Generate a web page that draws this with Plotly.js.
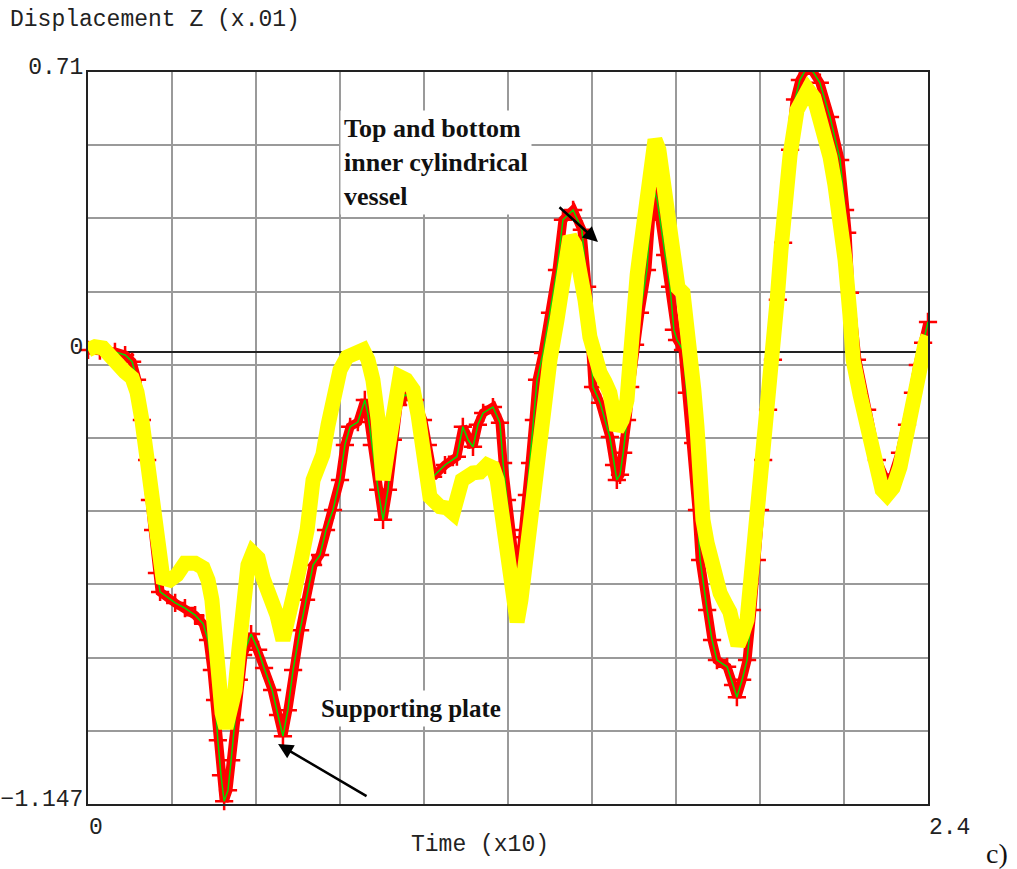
<!DOCTYPE html>
<html>
<head>
<meta charset="utf-8">
<script src="https://cdn.plot.ly/plotly-3.0.1.min.js"></script>
<style>
  html, body { margin: 0; padding: 0; background: #fff; }
  #chart { width: 1017px; height: 869px; }
</style>
</head>
<body>
<div id="chart"></div>
<script>
// Time axis in units of x10 s, displacement in units of x.01
const supportTime = [
  0, 0.034, 0.077, 0.106, 0.126, 0.140, 0.154, 0.169, 0.177, 0.186, 0.197, 0.206,
  0.249, 0.277, 0.306, 0.329, 0.343, 0.354, 0.363, 0.371, 0.380, 0.389, 0.400, 0.409,
  0.420, 0.431, 0.443, 0.466, 0.486, 0.503, 0.526, 0.543, 0.557, 0.571, 0.586, 0.606,
  0.623, 0.643, 0.663, 0.680, 0.700, 0.720, 0.734, 0.749, 0.771, 0.791, 0.800, 0.811,
  0.829, 0.843, 0.857, 0.871, 0.886, 0.906, 0.934, 0.957, 0.971, 0.986, 1.020, 1.054,
  1.071, 1.086, 1.100, 1.114, 1.129, 1.157, 1.177, 1.186, 1.197, 1.206, 1.217, 1.226,
  1.234, 1.243, 1.254, 1.263, 1.274, 1.283, 1.300, 1.320, 1.340, 1.357, 1.386, 1.411,
  1.426, 1.443, 1.463, 1.491, 1.503, 1.511, 1.520, 1.529, 1.540, 1.549, 1.563, 1.577,
  1.597, 1.606, 1.614, 1.626, 1.634, 1.649, 1.663, 1.674, 1.683, 1.700, 1.711, 1.729,
  1.740, 1.749, 1.769, 1.783, 1.797, 1.826, 1.843, 1.854, 1.869, 1.883, 1.897, 1.911,
  1.920, 1.929, 1.943, 1.957, 1.971, 1.986, 2.006, 2.020, 2.034, 2.054, 2.071, 2.091,
  2.120, 2.149, 2.163, 2.169, 2.177, 2.197, 2.226, 2.254, 2.283, 2.300, 2.320, 2.340,
  2.357, 2.371, 2.386, 2.400
];
const supportDisp = [
  0.005, 0.003, 0.000, -0.008, -0.025, -0.071, -0.173, -0.274, -0.376, -0.452, -0.561, -0.609,
  -0.637, -0.650, -0.668, -0.690, -0.731, -0.807, -0.883, -0.985, -1.074, -1.140, -1.112, -1.036,
  -0.934, -0.832, -0.769, -0.716, -0.756, -0.802, -0.858, -0.921, -0.975, -0.909, -0.807, -0.706,
  -0.629, -0.541, -0.515, -0.452, -0.401, -0.325, -0.236, -0.190, -0.178, -0.122, -0.160, -0.236,
  -0.350, -0.426, -0.350, -0.223, -0.135, -0.109, -0.122, -0.173, -0.236, -0.317, -0.287, -0.266,
  -0.190, -0.223, -0.241, -0.185, -0.155, -0.140, -0.180, -0.282, -0.376, -0.452, -0.541, -0.586,
  -0.541, -0.470, -0.363, -0.282, -0.173, -0.071, -0.003, 0.099, 0.208, 0.335, 0.360, 0.310,
  0.165, -0.089, -0.129, -0.216, -0.287, -0.325, -0.312, -0.256, -0.173, -0.089, 0.018, 0.099,
  0.208, 0.335, 0.419, 0.386, 0.335, 0.246, 0.165, 0.056, 0.030, 0.005, -0.104, -0.231,
  -0.401, -0.528, -0.655, -0.731, -0.782, -0.799, -0.845, -0.876, -0.832, -0.782, -0.655, -0.528,
  -0.401, -0.274, -0.147, -0.020, 0.132, 0.277, 0.513, 0.640, 0.690, 0.721, 0.711, 0.683,
  0.596, 0.487, 0.360, 0.302, 0.150, -0.020, -0.147, -0.274, -0.332, -0.312, -0.256, -0.185,
  -0.104, -0.033, 0.023, 0.076
];

const vesselTime = [
  0, 0.020, 0.043, 0.063, 0.086, 0.106, 0.126, 0.140, 0.154, 0.169, 0.180, 0.191,
  0.203, 0.214, 0.234, 0.254, 0.277, 0.306, 0.329, 0.343, 0.354, 0.363, 0.374, 0.383,
  0.394, 0.406, 0.420, 0.431, 0.443, 0.457, 0.471, 0.486, 0.500, 0.520, 0.540, 0.557,
  0.571, 0.586, 0.606, 0.626, 0.643, 0.657, 0.671, 0.686, 0.700, 0.720, 0.740, 0.763,
  0.786, 0.800, 0.814, 0.829, 0.843, 0.854, 0.863, 0.877, 0.891, 0.909, 0.929, 0.943,
  0.957, 0.977, 1.006, 1.026, 1.043, 1.057, 1.069, 1.100, 1.120, 1.140, 1.157, 1.169,
  1.186, 1.197, 1.206, 1.217, 1.226, 1.237, 1.254, 1.271, 1.286, 1.300, 1.320, 1.340,
  1.357, 1.369, 1.377, 1.391, 1.406, 1.420, 1.434, 1.449, 1.463, 1.477, 1.491, 1.503,
  1.511, 1.526, 1.540, 1.549, 1.557, 1.569, 1.577, 1.591, 1.606, 1.620, 1.631, 1.643,
  1.657, 1.671, 1.686, 1.700, 1.711, 1.720, 1.731, 1.740, 1.749, 1.757, 1.769, 1.786,
  1.806, 1.823, 1.834, 1.846, 1.857, 1.869, 1.883, 1.891, 1.900, 1.911, 1.920, 1.931,
  1.940, 1.957, 1.969, 1.980, 1.994, 2.006, 2.026, 2.043, 2.057, 2.074, 2.091, 2.106,
  2.120, 2.134, 2.149, 2.163, 2.177, 2.186, 2.206, 2.226, 2.240, 2.254, 2.269, 2.283,
  2.300, 2.320, 2.334, 2.349, 2.363, 2.377, 2.391, 2.400
];
const vesselDisp = [
  0.005, 0.013, 0.010, -0.013, -0.038, -0.051, -0.066, -0.102, -0.173, -0.274, -0.363, -0.452,
  -0.541, -0.574, -0.579, -0.566, -0.536, -0.536, -0.548, -0.579, -0.629, -0.744, -0.858, -0.916,
  -0.954, -0.921, -0.858, -0.756, -0.629, -0.541, -0.510, -0.523, -0.574, -0.617, -0.668, -0.731,
  -0.693, -0.622, -0.541, -0.452, -0.325, -0.294, -0.261, -0.185, -0.114, -0.046, -0.013, 0.000,
  0.005, -0.020, -0.071, -0.173, -0.325, -0.261, -0.198, -0.109, -0.063, -0.071, -0.096, -0.160,
  -0.241, -0.368, -0.393, -0.396, -0.409, -0.363, -0.325, -0.307, -0.305, -0.287, -0.294, -0.325,
  -0.426, -0.503, -0.579, -0.642, -0.685, -0.629, -0.495, -0.325, -0.223, -0.155, -0.020, 0.081,
  0.165, 0.246, 0.292, 0.272, 0.208, 0.132, 0.038, -0.025, -0.053, -0.076, -0.104, -0.160,
  -0.198, -0.173, -0.122, -0.020, 0.124, 0.195, 0.251, 0.360, 0.462, 0.538, 0.513, 0.419,
  0.310, 0.208, 0.162, 0.150, 0.081, -0.003, -0.096, -0.190, -0.358, -0.426, -0.485, -0.553,
  -0.612, -0.642, -0.660, -0.706, -0.744, -0.718, -0.680, -0.604, -0.528, -0.414, -0.317, -0.223,
  -0.147, 0.023, 0.132, 0.259, 0.411, 0.500, 0.614, 0.652, 0.665, 0.645, 0.596, 0.551,
  0.495, 0.424, 0.343, 0.234, 0.094, -0.020, -0.109, -0.190, -0.261, -0.317, -0.350, -0.363,
  -0.345, -0.292, -0.223, -0.147, -0.084, -0.020, 0.018, 0.040
];

// Axis extents and the labels printed at the ends of each axis
const timeRange = [0, 2.4];
const dispRange = [-1.147, 0.71];
const timeTickLabels = ['0', '2.4'];
const dispTickLabels = ['\u22121.147', '0', '0.71'];

// ten equal divisions on each axis carry the grid lines
const divisions = 10;
const xGrid = [], yGrid = [], xGridText = [], yGridText = [];
for (let k = 0; k <= divisions; k++) {
  xGrid.push(timeRange[0] + (timeRange[1] - timeRange[0]) * k / divisions);
  xGridText.push(k === 0 ? timeTickLabels[0] : (k === divisions ? timeTickLabels[1] : ''));
  yGrid.push(dispRange[0] + (dispRange[1] - dispRange[0]) * k / divisions);
  yGridText.push(k === 0 ? dispTickLabels[0] : (k === divisions ? dispTickLabels[2] : ''));
}
yGrid.push(0);
yGridText.push(dispTickLabels[1]);

const monoFont = { family: 'Liberation Mono, DejaVu Sans Mono, monospace', size: 23, color: '#222' };
const serifBold = { family: 'Liberation Serif, Times New Roman, serif', size: 26, color: '#111' };

const traces = [
  {
    x: supportTime, y: supportDisp, type: 'scatter', mode: 'lines+markers',
    line: { color: '#ff0000', width: 9 },
    marker: { symbol: 'cross-thin', size: 13, line: { color: '#ff0000', width: 2.5 } },
    cliponaxis: false, hoverinfo: 'skip', showlegend: false
  },
  {
    x: supportTime, y: supportDisp, type: 'scatter', mode: 'lines',
    line: { color: '#00e000', width: 1.5 },
    cliponaxis: false, hoverinfo: 'skip', showlegend: false
  },
  {
    x: vesselTime, y: vesselDisp, type: 'scatter', mode: 'lines',
    line: { color: '#ffff00', width: 15 },
    cliponaxis: false, hoverinfo: 'skip', showlegend: false
  }
];

const layout = {
  width: 1017, height: 869,
  margin: { l: 88, r: 89, t: 72, b: 65 },
  paper_bgcolor: '#ffffff', plot_bgcolor: '#ffffff',
  showlegend: false,
  xaxis: {
    range: timeRange, tickmode: 'array', tickvals: xGrid, ticktext: xGridText,
    ticklabelposition: 'outside right', tickfont: monoFont, ticks: '',
    showgrid: true, gridcolor: '#9a9a9a', gridwidth: 2,
    zeroline: false, showline: true, mirror: true, linecolor: '#222', linewidth: 2
  },
  yaxis: {
    range: dispRange, tickmode: 'array', tickvals: yGrid, ticktext: yGridText,
    ticklabelposition: 'outside', ticklabelshift: -6, ticklabelstandoff: -2,
    tickfont: monoFont, ticks: '',
    showgrid: true, gridcolor: '#9a9a9a', gridwidth: 2,
    zeroline: true, zerolinecolor: '#222', zerolinewidth: 2,
    showline: true, mirror: true, linecolor: '#222', linewidth: 2
  },
  annotations: [
    { text: 'Displacement Z (x.01)', xref: 'paper', yref: 'paper', x: -0.0952, y: 1.071,
      xanchor: 'left', yanchor: 'middle', showarrow: false, font: monoFont },
    { text: 'Time (x10)', xref: 'paper', yref: 'paper', x: 0.4667, y: -0.056,
      xanchor: 'center', yanchor: 'middle', showarrow: false, font: monoFont },
    { text: 'c)', xref: 'paper', yref: 'paper', x: 1.082, y: -0.067,
      xanchor: 'center', yanchor: 'middle', showarrow: false,
      font: { family: 'Liberation Serif, Times New Roman, serif', size: 28, color: '#111' } },
    { text: '<b>Top and bottom<br>inner cylindrical<br>vessel</b>', xref: 'paper', yref: 'paper',
      x: 0.300, y: 0.948, xanchor: 'left', yanchor: 'top', align: 'left', showarrow: false,
      bgcolor: '#ffffff', borderpad: 3, font: serifBold },
    { text: '<b>Supporting plate</b>', xref: 'paper', yref: 'paper',
      x: 0.271, y: 0.131, xanchor: 'left', yanchor: 'middle', showarrow: false,
      bgcolor: '#ffffff', borderpad: 4, font: { family: serifBold.family, size: 25, color: '#111' } },
    { text: '', x: 0.543, y: -0.995, xref: 'x', yref: 'y', showarrow: true,
      ax: 90, ay: 53, axref: 'pixel', ayref: 'pixel',
      arrowhead: 2, arrowsize: 1.2, arrowwidth: 2.5, arrowcolor: '#000' },
    { text: '', x: 1.457, y: 0.279, xref: 'x', yref: 'y', showarrow: true,
      ax: -40, ay: -36, axref: 'pixel', ayref: 'pixel',
      arrowhead: 2, arrowsize: 1.2, arrowwidth: 2.5, arrowcolor: '#000' }
  ]
};

Plotly.newPlot('chart', traces, layout, { staticPlot: true, displayModeBar: false });
</script>
</body>
</html>
